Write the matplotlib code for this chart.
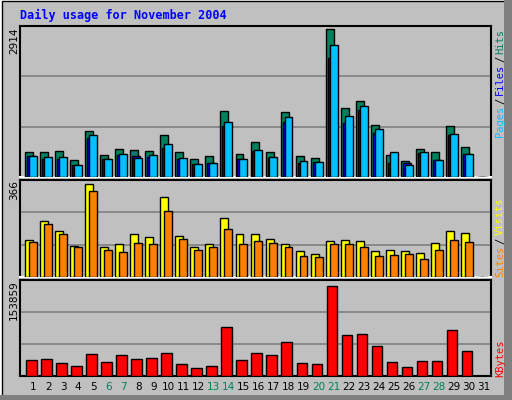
import matplotlib
matplotlib.use("Agg")
import matplotlib.pyplot as plt
from matplotlib.patches import Rectangle
import numpy as np

days = list(range(1, 32))
hits = [483,502,521,328,907,425,560,540,521,830,483,347,405,1293,444,695,502,1274,405,367,2914,1351,1505,1023,425,309,560,483,1004,598,0]
files = [405,347,347,232,772,347,425,405,386,579,347,251,270,1004,347,521,367,1081,270,290,2335,1062,1312,869,270,270,463,328,830,444,0]
pages = [405,386,386,232,830,347,444,367,425,656,367,251,270,1081,347,540,386,1177,309,290,2606,1197,1390,946,483,232,483,328,849,444,0]
visits = [138,208,171,116,342,112,120,157,149,297,153,109,123,219,157,157,142,120,97,86,134,138,134,97,101,97,90,127,171,164,0]
sites = [131,194,160,112,319,101,94,127,120,242,142,101,109,179,123,134,127,109,79,75,120,123,112,79,83,86,68,101,138,131,0]
kbytes = [28075,29760,23022,17968,38182,24706,36498,29760,31444,39867,21337,14599,17968,83664,28075,39867,36498,58396,23022,21337,153859,70188,71872,51658,24706,16284,26391,26391,78610,43236,0]
weekends = [6,7,13,14,20,21,27,28]
title = "Daily usage for November 2004"

BG = "#C0C0C0"
C_HITS, C_FILES, C_PAGES = "#00805C", "#0000FF", "#00C0FF"
C_VIS, C_SITES, C_KB = "#FFFF00", "#FF8000", "#FF0000"
MONO = "DejaVu Sans Mono"

fig = plt.figure(figsize=(5.12, 4.0), dpi=100, facecolor=BG)
# 3D frame
fig.patches.append(Rectangle((0, 0), 1, 1, transform=fig.transFigure, fill=False, ec="white", lw=3))
fig.patches.append(Rectangle((0.003, 0.003), 0.994, 0.994, transform=fig.transFigure, fill=False, ec="black", lw=1))
fig.patches.append(Rectangle((0.985, 0.0), 0.015, 1, transform=fig.transFigure, fc="#808080", ec="none"))
fig.patches.append(Rectangle((0.0, 0.0), 1, 0.012, transform=fig.transFigure, fc="#808080", ec="none"))

L, W = 20/512, 471/512
def mk(top, bot):
    ax = fig.add_axes([L, 1-bot/400, W, (bot-top)/400])
    ax.set_facecolor(BG)
    ax.set_xlim(0.13, 31.47)
    ax.set_xticks([]); ax.set_yticks([])
    for s in ax.spines.values():
        s.set_color("black"); s.set_linewidth(1.5)
    ax.spines["bottom"].set_color("white")
    return ax

x = np.array(days)
ekw = dict(edgecolor="black", linewidth=1, align="edge", zorder=3)

ax1 = mk(26, 177)
top1 = 2914 * 151 / 148
ax1.set_ylim(0, top1)
for f in (1/3, 2/3):
    ax1.axhline(top1*f, color="#808080", lw=1.2, zorder=1)
ax1.bar(x-0.53, hits, 0.53, color=C_HITS, **ekw)
ax1.bar(x-0.40, files, 0.53, color=C_FILES, **ekw)
ax1.bar(x-0.27, pages, 0.53, color=C_PAGES, **ekw)

ax2 = mk(180, 277)
top2 = 358
ax2.set_ylim(0, top2)
for f in (1/3, 2/3):
    ax2.axhline(top2*f, color="#808080", lw=1.2, zorder=1)
ax2.bar(x-0.53, visits, 0.53, color=C_VIS, **ekw)
ax2.bar(x-0.27, sites, 0.53, color=C_SITES, **ekw)

ax3 = mk(280, 376)
ax3.spines["bottom"].set_color("black")
top3 = 165000
ax3.set_ylim(0, top3)
for f in (1/3, 2/3):
    ax3.axhline(top3*f, color="#808080", lw=1.2, zorder=1)
ax3.bar(x-0.47, kbytes, 0.7, color=C_KB, **ekw)
ax3.set_xticks(x)
ax3.set_xticklabels([str(d) for d in days], fontsize=7.5, family="DejaVu Sans")
ax3.tick_params(axis="x", length=0, pad=4)
for lab, d in zip(ax3.get_xticklabels(), days):
    lab.set_color(C_HITS if d in weekends else "black")

def px(xp, yp):
    return xp/512, 1-yp/400

fig.text(*px(20, 15), title, color="#0000FF", fontsize=8.5, weight="bold", family=MONO, va="center")
for yp, s in ((28, "2914"), (180, "366"), (280, "153859")):
    fig.text(*px(14, yp), s, rotation=90, fontsize=7.5, ha="center", va="top", family="DejaVu Sans")

def rlab(yp, s, c):
    fig.text(*px(500, yp), s, rotation=90, color=c, fontsize=7.5, family=MONO, ha="center", va="bottom")
rlab(137, "Pages", C_PAGES); rlab(104, "/", "black"); rlab(95, "Files", C_FILES)
rlab(62, "/", "black"); rlab(54, "Hits", C_HITS)
rlab(277, "Sites", C_SITES); rlab(244, "/", "black"); rlab(235, "Visits", C_VIS)
rlab(377, "KBytes", C_KB)

fig.savefig("out.png", dpi=100, facecolor=BG)
